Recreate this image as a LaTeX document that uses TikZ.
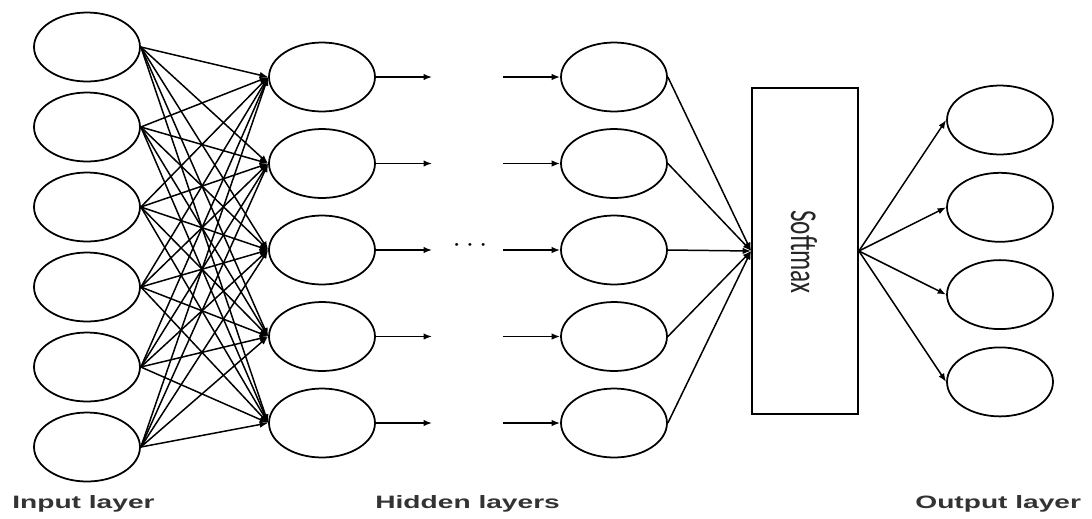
\documentclass[tikz,border=0pt]{standalone}
\usepackage{fontspec}
\usepackage{graphicx}
\usetikzlibrary{arrows.meta,positioning,shapes.geometric}
\newfontfamily\labelfont{Liberation Sans}[FakeStretch=1.57]
\newfontfamily\boxfont{Carlito}

\begin{document}
\begin{tikzpicture}[
    x=0.02cm, y=-0.02cm,
    neuron/.style={draw, ellipse, line width=1pt, minimum width=2.12cm,
                   minimum height=1.38cm, inner sep=0pt},
    layerlabel/.style={anchor=base west, inner sep=0pt, text=black!80,
                       font=\labelfont\bfseries\fontsize{10.2}{12}\selectfont},
    arr/.style={-{Latex[length=1.7mm, width=1.3mm]}, line width=0.85pt}
]
\useasboundingbox (0,0) rectangle (1092,518);

% ── Input layer ───────────────────────────────────────────────────────────
\foreach \i in {1,...,6}
    \node[neuron] (in\i) at (87, {47+80*(\i-1)}) {};

% ── Hidden layers ─────────────────────────────────────────────────────────
\foreach \j in {1,...,5} {
    \node[neuron] (ha\j) at (322, {77+86.5*(\j-1)}) {};
    \node[neuron] (hb\j) at (614, {77+86.5*(\j-1)}) {};
    \coordinate (haout\j) at (432, {77+86.5*(\j-1)});
    \coordinate (hbin\j) at (503, {77+86.5*(\j-1)});
}
\node (dots) at (470, 246) {\scalebox{1.7}[1.5]{$\cdots$}};

% ── Softmax ───────────────────────────────────────────────────────────────
\node[draw, line width=1pt, minimum width=2.12cm, minimum height=6.52cm,
      inner sep=0pt] (soft) at (805, 251) {};
\node[rotate=-90, text=black!85, font=\boxfont\fontsize{14.4}{16}\selectfont]
      (softtext) at (804, 252) {\scalebox{1}[1.5]{Softmax}};

% ── Output layer ──────────────────────────────────────────────────────────
\foreach \k in {1,...,4}
    \node[neuron] (out\k) at (1000, {120+87.3*(\k-1)}) {};

% ── Input → first hidden layer (fully connected) ─────────────────────────
\foreach \i in {1,...,6}
    \foreach \j in {1,...,5}
        \draw[arr] (in\i.east) -- (ha\j.west);

% ── Between hidden layers ─────────────────────────────────────────────────
\foreach \j in {1,...,5} {
    \draw[arr] (ha\j.east) -- (haout\j);
    \draw[arr] (hbin\j) -- (hb\j.west);
}

% ── Last hidden layer → softmax → output ──────────────────────────────────
\foreach \j in {1,...,5}
    \draw[arr] (hb\j.east) -- (soft.west);
\foreach \k in {1,...,4}
    \draw[arr] (soft.east) -- (out\k.west);

% ── Labels ────────────────────────────────────────────────────────────────
\node[layerlabel] (lin) at (12, 508) {Input layer};
\node[layerlabel] (lhid) at (375, 508) {Hidden layers};
\node[layerlabel] (lout) at (915, 508) {Output layer};

\end{tikzpicture}
\end{document}
